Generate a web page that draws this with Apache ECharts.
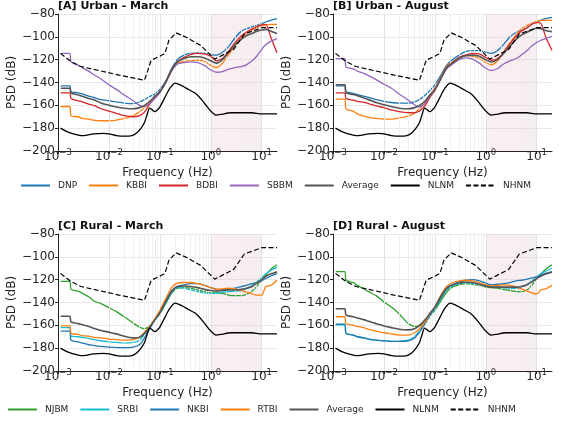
<!DOCTYPE html>
<html>
<head>
<meta charset="utf-8">
<script src="https://cdn.jsdelivr.net/npm/echarts@6/dist/echarts.min.js"></script>
<style>
html, body { margin: 0; padding: 0; background: #ffffff; }
#chart { width: 586px; height: 428px; }
</style>
</head>
<body>
<div id="chart"></div>
<script>
// Shared frequency grid (Hz) for the station PSD curves
const freq = [0.00113, 0.0017, 0.0018, 0.0025, 0.003, 0.004, 0.005, 0.007, 0.01, 0.014, 0.02, 0.03, 0.04, 0.05, 0.065, 0.08, 0.1, 0.13, 0.17, 0.22, 0.3, 0.4, 0.55, 0.75, 1.0, 1.3, 1.7, 2.2, 3, 4, 5, 6.5, 8, 10, 12, 15, 20];

// [A] Urban - March (dB)
const urbanMarDNP  = [-143,-143,-148,-149,-150,-152,-153,-155,-156,-157,-158,-158.5,-157,-155,-152,-150,-146,-139,-128,-120,-116,-114.5,-114,-114.5,-115.5,-116,-113.5,-109,-101,-95,-93,-91,-90,-88.5,-87,-85.5,-84];
const urbanMarKBBI = [-161,-161,-169,-170,-171.5,-172,-173,-173.5,-173.5,-173,-171.5,-169,-165.5,-162,-157,-153,-148,-140,-130,-123,-121.5,-121,-120.5,-121.5,-125,-127,-123,-116,-108,-101,-97,-94,-92,-90.5,-89.5,-89,-89];
const urbanMarBDBI = [-149,-149,-154,-156,-157,-159,-160,-163,-165,-167,-169,-170,-169,-166,-158,-153,-148,-140,-129,-122,-118,-115.5,-114.5,-115,-117,-121,-119,-113,-105,-99,-96,-93,-91,-89.5,-89,-100,-114];
const urbanMarSBBM = [-114.5,-114.5,-122,-125,-127,-130,-133,-137,-142,-146,-151,-156,-160,-161,-158,-154,-149,-140,-130,-124,-122.5,-122,-122.5,-125,-129,-131,-130.5,-128.5,-127,-126,-124.5,-121,-117,-111,-107,-104,-101.5];
const urbanMarAvg  = [-145,-145,-149,-151,-152,-154,-155,-158,-160,-161.5,-162.5,-163,-162,-160,-156,-152,-148,-140,-129,-122,-119,-117.5,-117.5,-118.5,-121,-123,-120,-114,-107,-102,-99,-97,-95,-94,-93.5,-95,-97];

// [B] Urban - August (dB)
const urbanAugDNP  = [-143,-143,-148,-149.5,-150.5,-152,-153,-155,-156.5,-157.5,-158,-158,-157,-155,-151,-147,-142,-134,-125,-120,-116,-113,-112,-112,-113.5,-114.5,-112,-107,-100,-96,-94.5,-92,-89,-87,-85.5,-84,-83];
const urbanAugKBBI = [-154.5,-154.5,-163,-165,-167.5,-169.5,-170.5,-171.5,-172,-172,-171,-169.5,-167,-163,-157,-151,-145,-136,-126,-122,-118.5,-116.5,-117,-119,-122.5,-124.5,-121,-114,-105,-98,-93,-90,-88,-86.5,-85.5,-85.5,-85.5];
const urbanAugBDBI = [-149,-149,-154,-155.5,-156.5,-157.5,-158.5,-160.5,-162,-164,-165.5,-166.5,-166.5,-165,-160,-153,-147,-137,-127,-123,-118,-116,-114.5,-115,-118,-120.5,-119,-114,-106,-99,-95,-92,-89,-87.5,-88,-100,-112];
const urbanAugSBBM = [-119,-119,-126.5,-128,-130,-132,-134,-137.5,-141.5,-145,-150,-155.5,-159.5,-161.5,-158,-152,-146,-137,-128,-124,-120,-118.5,-119.5,-123,-127.5,-129.5,-128,-124,-121,-119,-116,-112,-108,-105,-103,-101.5,-99.5];
const urbanAugAvg  = [-142,-142,-149,-150.5,-151.5,-153.5,-155,-157.5,-159.5,-161,-162.5,-163,-162,-160,-156,-151,-146,-137,-127,-123,-118.5,-116.5,-116,-117,-120,-122,-120,-115,-108,-102,-98.5,-96,-94,-92.5,-93,-94.5,-95.5];

// [C] Rural - March (dB)
const ruralMarNJBM = [-121.5,-121.5,-128.5,-130,-132,-135,-138.5,-141,-144.5,-148,-152.5,-158,-161.5,-163,-160,-155,-150,-141,-132,-127.5,-127,-127.5,-129,-130.5,-131.5,-131.5,-132,-133.5,-134,-134,-133,-130,-126,-120,-116,-111,-107];
const ruralMarSRBI = [-162,-162,-169.5,-170,-170.5,-171.5,-172.5,-173.5,-174.5,-175,-175.5,-175,-173,-168,-161,-155,-149,-140,-131,-127,-127.5,-129,-130.5,-131.5,-132,-132,-131,-130.5,-130,-129.5,-128,-125,-122,-118,-115,-112,-109];
const ruralMarNKBI = [-165,-165,-173,-174.5,-175.5,-177,-177.5,-178.5,-179,-179.5,-179.5,-179,-177,-171,-162,-155,-149,-140,-131,-126,-124.5,-123.5,-123.5,-125,-127,-128.5,-129,-128.5,-127.5,-126,-125,-123.5,-122.5,-121,-119,-117,-114.5];
const ruralMarRTBI = [-160.5,-160.5,-167,-168,-169,-169.5,-170.5,-171,-172,-172.5,-173,-172.5,-170.5,-166,-160,-154,-147,-137,-127,-123,-122.5,-122.5,-123.5,-125,-127,-128.5,-128,-127.5,-128,-129.5,-131,-132.5,-133.5,-133.5,-126,-125,-120.5];
const ruralMarAvg  = [-152,-152,-157,-158.5,-159.5,-161,-162.5,-164.5,-166,-167.5,-169.5,-171,-170.5,-167,-161,-155,-149,-139,-130,-126,-125.5,-126,-127,-128.5,-129.5,-130,-129.5,-129,-129,-128.5,-127.5,-126,-123,-120,-117,-115,-113];

// [D] Rural - August (dB)
const ruralAugNJBM = [-113,-113,-120.5,-122.5,-125,-128,-130.5,-134,-139.5,-144,-150,-158.5,-161,-160.5,-157,-152,-147,-139,-131,-126.5,-124.5,-123.5,-124,-125,-126.5,-127,-127.5,-128.5,-129.5,-130.5,-130.5,-129,-125,-119,-115,-111,-107];
const ruralAugSRBI = [-159.5,-159.5,-167,-168.5,-170,-171,-172,-173,-173.5,-174,-174,-173,-170,-165,-158,-152,-146,-137,-129,-125.5,-123.5,-122.5,-123.5,-124.5,-125.5,-126,-126.5,-127,-127.5,-127.5,-126.5,-124,-121,-117.5,-115,-112.5,-110];
const ruralAugNKBI = [-159,-159,-167,-168.5,-170,-171,-172,-173,-173.5,-174,-174,-173.5,-171,-166,-158,-151,-145,-136,-128,-124.5,-122,-120.5,-120,-121,-123,-124.5,-124,-123.5,-122.5,-121,-120.5,-119.5,-118.5,-117.5,-116,-114.5,-113];
const ruralAugRTBI = [-152.5,-152.5,-158.5,-160,-161,-162,-163.5,-165,-166.5,-167.5,-168.5,-168.5,-166.5,-163,-157,-150,-144,-134,-126,-122.5,-121,-120.5,-121,-122.5,-124.5,-125.5,-125,-124.5,-125,-126.5,-128,-130,-131.5,-132.5,-129,-128,-125];
const ruralAugAvg  = [-145.5,-145.5,-151,-152.5,-153.5,-155,-156.5,-158.5,-160.5,-162,-163.5,-164,-163,-160,-155,-149.5,-144,-135,-127.5,-124.5,-123,-122,-122.5,-124,-125.5,-126.5,-126.5,-126.5,-126.5,-126.5,-126,-124.5,-122,-119,-117,-115,-113.5];

// Peterson noise models
const nlnmFreq = [0.00112,0.00158,0.00251,0.00316,0.005,0.0079,0.01,0.0141,0.02,0.0282,0.0355,0.0427,0.05,0.0562,0.0631,0.0708,0.0794,0.0891,0.1,0.126,0.158,0.2,0.251,0.316,0.398,0.5,0.631,0.794,1.0,1.26,1.58,2.51,6.31,10,20];
const nlnmDb   = [-180,-183.5,-186,-186.5,-185,-184.5,-185,-186.5,-187,-186.5,-184,-180,-175,-168,-162.5,-164,-165.5,-164,-161.5,-153,-145,-140.5,-142,-144.5,-147,-149.5,-154,-159.5,-165,-168.5,-168,-166.5,-166.5,-167.5,-167.5];
const nhnmFreq = [0.00112,0.00178,0.00282,0.0063,0.0158,0.05,0.0537,0.0676,0.1,0.126,0.151,0.209,0.316,0.631,1.2,2.82,4.57,10,20];
const nhnmDb   = [-114.5,-121.5,-126,-129.5,-133.5,-138,-137.5,-120.5,-117,-114.5,-103,-96.5,-100,-107.5,-119.5,-111,-97.5,-92,-92];

// Panel titles, legend entries and y tick range
const panelTitles = ['[A] Urban - March', '[B] Urban - August', '[C] Rural - March', '[D] Rural - August'];
const urbanNames = ['DNP', 'KBBI', 'BDBI', 'SBBM', 'Average'];
const ruralNames = ['NJBM', 'SRBI', 'NKBI', 'RTBI', 'Average'];
const modelNames = ['NLNM', 'NHNM'];
const yTicks = { min: -200, max: -80, step: 20 };
const bandHz = [1, 10];

const FONT = 'DejaVu Sans';
const TXT = '#262626';
const urbanColors = ['#1f77b4', '#ff7f0e', '#d62728', '#9467bd', '#555555'];
const ruralColors = ['#2ca02c', '#17becf', '#1f77b4', '#ff7f0e', '#555555'];

const panels = [
  { names: urbanNames, colors: urbanColors, values: [urbanMarDNP, urbanMarKBBI, urbanMarBDBI, urbanMarSBBM, urbanMarAvg] },
  { names: urbanNames, colors: urbanColors, values: [urbanAugDNP, urbanAugKBBI, urbanAugBDBI, urbanAugSBBM, urbanAugAvg] },
  { names: ruralNames, colors: ruralColors, values: [ruralMarNJBM, ruralMarSRBI, ruralMarNKBI, ruralMarRTBI, ruralMarAvg] },
  { names: ruralNames, colors: ruralColors, values: [ruralAugNJBM, ruralAugSRBI, ruralAugNKBI, ruralAugRTBI, ruralAugAvg] }
];

const gridBoxes = [
  { left: 58,  top: 14,  width: 219, height: 137 },
  { left: 333, top: 14,  width: 219, height: 137 },
  { left: 58,  top: 234, width: 219, height: 137 },
  { left: 333, top: 234, width: 219, height: 137 }
];

// Log-axis grid line positions: decades and 2..9 sub-decades
const decadeLines = [0.01, 0.1, 1, 10];
const minorLines = [];
for (let e = -3; e <= 1; e++) {
  for (let k = 2; k <= 9; k++) {
    const v = k * Math.pow(10, e);
    if (v < 20) minorLines.push(v);
  }
}

function pairs(xs, ys) { return xs.map((x, i) => [x, ys[i]]); }

function minusFmt(v) { return (v < 0 ? '\u2212' : '') + Math.abs(v); }

function logLabel(v) {
  const e = Math.log10(v);
  const r = Math.round(e);
  if (Math.abs(e - r) > 1e-6) return '';
  return '{b|10}{s|' + (r < 0 ? '\u2212' : '') + Math.abs(r) + '}';
}

const grid = [], xAxis = [], yAxis = [], series = [], title = [];

gridBoxes.forEach((g, gi) => {
  grid.push(Object.assign({ containLabel: false }, g));
  title.push({
    text: panelTitles[gi], left: g.left, top: g.top - 13, padding: 0,
    textStyle: { fontFamily: FONT, fontSize: 11, fontWeight: 'bold', color: '#111' }
  });
  xAxis.push({
    gridIndex: gi, type: 'log', logBase: 10, min: 0.001, max: 20,
    name: 'Frequency (Hz)', nameLocation: 'middle', nameGap: 12,
    nameTextStyle: { fontFamily: FONT, fontSize: 12, color: TXT },
    axisLine: { show: true, onZero: false, lineStyle: { color: '#222', width: 1 } },
    axisTick: { show: true, length: 3, lineStyle: { color: '#222' } },
    splitLine: { show: false },
    axisLabel: {
      margin: -1, showMaxLabel: false, formatter: logLabel,
      rich: {
        b: { fontFamily: FONT, fontSize: 12, lineHeight: 14, color: TXT },
        s: { fontFamily: FONT, fontSize: 8.5, lineHeight: 10, padding: [0, 0, 8, 0], color: TXT }
      }
    }
  });
  yAxis.push({
    gridIndex: gi, type: 'value', min: yTicks.min, max: yTicks.max, interval: yTicks.step,
    name: 'PSD (dB)', nameLocation: 'middle', nameGap: 37,
    nameTextStyle: { fontFamily: FONT, fontSize: 12, color: TXT },
    axisLine: { show: true, lineStyle: { color: '#222', width: 1 } },
    axisTick: { show: true, length: 3, lineStyle: { color: '#222' } },
    splitLine: { show: true, lineStyle: { color: '#e3e3e3', width: 0.8 } },
    axisLabel: { margin: 3, fontFamily: FONT, fontSize: 12, color: TXT, formatter: minusFmt }
  });

  // background: shaded 1-10 Hz band and vertical log grid
  series.push({
    type: 'line', xAxisIndex: gi, yAxisIndex: gi, data: [], silent: true, z: 1,
    markArea: {
      silent: true,
      itemStyle: { color: 'rgba(214,140,170,0.15)' },
      data: [[{ xAxis: bandHz[0] }, { xAxis: bandHz[1] }]]
    },
    markLine: {
      silent: true, symbol: ['none', 'none'], label: { show: false }, animation: false,
      data: minorLines.map(v => ({ xAxis: v, lineStyle: { color: '#ececec', width: 0.8, type: 'solid' } }))
        .concat(decadeLines.map(v => ({ xAxis: v, lineStyle: { color: '#dddddd', width: 0.8, type: 'solid' } })))
    }
  });

  const p = panels[gi];
  p.names.forEach((nm, k) => {
    series.push({
      type: 'line', name: nm, xAxisIndex: gi, yAxisIndex: gi,
      data: pairs(freq, p.values[k]), symbol: 'none', smooth: 0.25, z: 3 + k,
      lineStyle: { color: p.colors[k], width: nm === 'Average' ? 1.6 : 1.3 },
      itemStyle: { color: p.colors[k] }
    });
  });
  series.push({
    type: 'line', name: 'NLNM', xAxisIndex: gi, yAxisIndex: gi,
    data: pairs(nlnmFreq, nlnmDb), symbol: 'none', smooth: 0.25, z: 10,
    lineStyle: { color: '#000', width: 1.3 }, itemStyle: { color: '#000' }
  });
  series.push({
    type: 'line', name: 'NHNM', xAxisIndex: gi, yAxisIndex: gi,
    data: pairs(nhnmFreq, nhnmDb), symbol: 'none', z: 11,
    lineStyle: { color: '#000', width: 1.2, type: [5, 2.5] }, itemStyle: { color: '#000' }
  });
});

// legend keys are plain line samples (no marker on them)
const legendBase = {
  orient: 'horizontal', padding: 0, itemWidth: 29, itemHeight: 8, itemGap: 11,
  selectedMode: false,
  itemStyle: { opacity: 0 },
  textStyle: { fontFamily: FONT, fontSize: 9, color: TXT, padding: [0, 0, 0, 3] }
};

const legend = [
  Object.assign({}, legendBase, { left: 20, top: 181, data: urbanNames.concat(modelNames) }),
  Object.assign({}, legendBase, { left: 7, top: 405, data: ruralNames.concat(modelNames) })
];

const chart = echarts.init(document.getElementById('chart'), null, { renderer: 'canvas' });
chart.setOption({
  animation: false,
  backgroundColor: '#ffffff',
  title, grid, xAxis, yAxis, legend, series
});
</script>
</body>
</html>
